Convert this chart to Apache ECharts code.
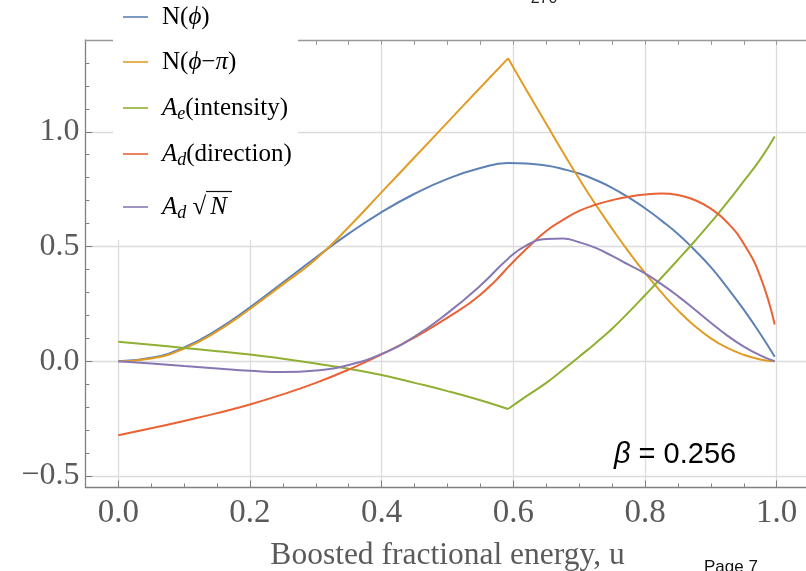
<!DOCTYPE html>
<html>
<head>
<meta charset="utf-8">
<script src="https://cdn.jsdelivr.net/npm/echarts@6/dist/echarts.min.js"></script>
<style>
  html, body { margin: 0; padding: 0; background: #fff; }
  #chart { width: 806px; height: 571px; }
</style>
</head>
<body>
<div id="chart"></div>
<script>
// Boosted fractional energy u (shared sample points for every curve)
const uGrid = [0, 0.05, 0.1, 0.15, 0.2, 0.25, 0.3, 0.35, 0.4, 0.45, 0.5, 0.55, 0.592,
               0.62, 0.65, 0.675, 0.7, 0.725, 0.75, 0.775, 0.8, 0.825, 0.85, 0.875, 0.9,
               0.925, 0.95, 0.975, 0.997];

// N(phi)
const nPhi = [0, 0.015, 0.06, 0.137, 0.235, 0.343, 0.452, 0.556, 0.65, 0.73, 0.795, 0.842, 0.864,
              0.862, 0.853, 0.838, 0.818, 0.79, 0.756, 0.714, 0.667, 0.613, 0.555, 0.486, 0.41,
              0.321, 0.225, 0.12, 0.02];
// N(phi - pi)
const nPhiMinusPi = [0, 0.012, 0.055, 0.13, 0.228, 0.335, 0.445, 0.585, 0.737, 0.889, 1.041, 1.193, 1.32,
                     1.181, 1.035, 0.913, 0.795, 0.683, 0.578, 0.478, 0.385, 0.3, 0.222, 0.155, 0.1,
                     0.058, 0.028, 0.008, 0];
// A_e (intensity)
const aeIntensity = [0.085, 0.072, 0.058, 0.044, 0.03, 0.011, -0.01, -0.033, -0.06, -0.094, -0.13, -0.17, -0.208,
                     -0.152, -0.094, -0.038, 0.02, 0.079, 0.142, 0.213, 0.288, 0.364, 0.442, 0.522, 0.605,
                     0.692, 0.785, 0.88, 0.98];
// A_d (direction)
const adDirection = [-0.322, -0.292, -0.26, -0.226, -0.188, -0.144, -0.094, -0.036, 0.03, 0.104, 0.19, 0.29, 0.41,
                     0.49, 0.568, 0.615, 0.655, 0.682, 0.702, 0.717, 0.727, 0.731, 0.725, 0.703, 0.665,
                     0.605, 0.512, 0.37, 0.16];
// A_d * sqrt(N)
const adSqrtN = [0, -0.01, -0.021, -0.031, -0.041, -0.047, -0.04, -0.016, 0.032, 0.108, 0.21, 0.33, 0.447,
                 0.505, 0.533, 0.535, 0.519, 0.494, 0.459, 0.421, 0.383, 0.336, 0.284, 0.227, 0.168,
                 0.112, 0.064, 0.026, 0];

// Index of the corner (u = 0.592) where several curves change slope abruptly
const kinkIndex = 12;

// Axis ticks
const xMajorTicks = [0, 0.2, 0.4, 0.6, 0.8, 1.0];
const xMinorTicks = [0.05, 0.1, 0.15, 0.25, 0.3, 0.35, 0.45, 0.5, 0.55, 0.65, 0.7, 0.75, 0.85, 0.9, 0.95];
const yMajorTicks = [-0.5, 0, 0.5, 1.0];
const yMinorTicks = [-0.4, -0.3, -0.2, -0.1, 0.1, 0.2, 0.3, 0.4, 0.6, 0.7, 0.8, 0.9, 1.1, 1.2, 1.3];

const seriesNames = ['N(ϕ)', 'N(ϕ−π)', 'Ae(intensity)', 'Ad(direction)', 'Ad√N'];
const seriesColors = ['#5E81B5', '#E19C24', '#8FB032', '#EB6235', '#8778B3'];

const serif = '"Liberation Serif", "DejaVu Serif", serif';
const sans = '"Liberation Sans", Arial, sans-serif';
const frameColor = '#808080';
const labelColor = '#5a5a5a';

function pairs(values, from, to) {
  const out = [];
  for (let i = from; i <= to; i++) out.push([uGrid[i], values[i]]);
  return out;
}

function lineSeries(name, values, color, from, to) {
  return {
    name: name,
    type: 'line',
    data: pairs(values, from, to),
    symbol: 'none',
    showSymbol: false,
    smooth: 0.5,
    silent: true,
    clip: true,
    lineStyle: { color: color, width: 2 },
    z: 3
  };
}

const last = uGrid.length - 1;
const series = [
  lineSeries(seriesNames[0], nPhi, seriesColors[0], 0, last),
  lineSeries(seriesNames[1], nPhiMinusPi, seriesColors[1], 0, kinkIndex),
  lineSeries(seriesNames[1], nPhiMinusPi, seriesColors[1], kinkIndex, last),
  lineSeries(seriesNames[2], aeIntensity, seriesColors[2], 0, kinkIndex),
  lineSeries(seriesNames[2], aeIntensity, seriesColors[2], kinkIndex, last),
  lineSeries(seriesNames[3], adDirection, seriesColors[3], 0, kinkIndex),
  lineSeries(seriesNames[3], adDirection, seriesColors[3], kinkIndex, last),
  lineSeries(seriesNames[4], adSqrtN, seriesColors[4], 0, last)
];

// Legend panel (drawn on top of the frame, upper left)
const legendRich = {
  n: { fontFamily: serif, fontSize: 25, color: '#111', lineHeight: 30 },
  i: { fontFamily: serif, fontSize: 25, fontStyle: 'italic', color: '#111', lineHeight: 30 },
  r: { fontFamily: serif, fontSize: 25, fontStyle: 'italic', color: '#111', lineHeight: 30, padding: [0, 0, 0, 4] },
  sub: { fontFamily: serif, fontSize: 18, fontStyle: 'italic', color: '#111', lineHeight: 18, verticalAlign: 'bottom' }
};
const legendTexts = [
  '{n|N(}{i|ϕ}{n|)}',
  '{n|N(}{i|ϕ}{n|−}{i|π}{n|)}',
  '{i|A}{sub|e}{n|(intensity)}',
  '{i|A}{sub|d}{n|(direction)}',
  '{i|A}{sub|d}{n| √}{r|N}'
];
const legendY = [17, 62, 108, 154, 207];

const legendGraphics = [{
  type: 'rect',
  shape: { x: 113, y: 0, width: 185, height: 240 },
  style: { fill: '#fff' },
  z: 100
}];
legendTexts.forEach(function (t, k) {
  legendGraphics.push({
    type: 'line',
    shape: { x1: 123, y1: legendY[k], x2: 148, y2: legendY[k] },
    style: { stroke: seriesColors[k], lineWidth: 1.6 },
    z: 101
  });
  legendGraphics.push({
    type: 'text',
    x: 162, y: legendY[k],
    style: { text: t, rich: legendRich, verticalAlign: 'middle', align: 'left' },
    z: 101
  });
});
// panel edge trims the last glyph of the long entry
legendGraphics.push({
  type: 'rect',
  shape: { x: 298, y: 138, width: 14, height: 32 },
  style: { fill: '#fff' },
  z: 102
});
// vinculum over N in the last entry
legendGraphics.push({
  type: 'line',
  shape: { x1: 206, y1: 191.5, x2: 232, y2: 191.5 },
  style: { stroke: '#111', lineWidth: 1.2 },
  z: 101
});

const chart = echarts.init(document.getElementById('chart'), null, { renderer: 'canvas' });

chart.setOption({
  animation: false,
  backgroundColor: '#fff',
  grid: { left: 85.4, right: -3.6, top: 40, bottom: 83.5, containLabel: false, outerBoundsMode: 'none' },
  xAxis: [
    {
      type: 'value', min: -0.05, max: 1.05, position: 'bottom',
      axisLine: { show: true, onZero: false, lineStyle: { color: frameColor, width: 1.3 } },
      axisTick: { show: true, inside: true, length: 7, customValues: xMajorTicks,
                  lineStyle: { color: frameColor, width: 1 } },
      axisLabel: { show: true, customValues: xMajorTicks, margin: 9,
                   formatter: function (v) { return v.toFixed(1); },
                   fontFamily: serif, fontSize: 33, color: labelColor },
      splitLine: { show: true, lineStyle: { color: '#dcdcdc', width: 1.3 } },
      name: 'Boosted fractional energy, u',
      nameLocation: 'middle', nameGap: 52,
      nameTextStyle: { fontFamily: serif, fontSize: 31.5, color: labelColor }
    },
    {
      type: 'value', min: -0.05, max: 1.05, position: 'bottom',
      axisLine: { show: false, onZero: false },
      axisTick: { show: true, inside: true, length: 4, customValues: xMinorTicks,
                  lineStyle: { color: frameColor, width: 1 } },
      axisLabel: { show: false },
      splitLine: { show: false }
    },
    {
      type: 'value', min: -0.05, max: 1.05, position: 'top',
      axisLine: { show: true, onZero: false, lineStyle: { color: '#999', width: 1.3 } },
      axisTick: { show: true, inside: true, length: 5, customValues: xMajorTicks.concat(xMinorTicks),
                  lineStyle: { color: '#999', width: 1 } },
      axisLabel: { show: false },
      splitLine: { show: false }
    }
  ],
  yAxis: [
    {
      type: 'value', min: -0.55, max: 1.4, position: 'left',
      axisLine: { show: true, onZero: false, lineStyle: { color: frameColor, width: 1.3 } },
      axisTick: { show: true, inside: true, length: 7, customValues: yMajorTicks,
                  lineStyle: { color: frameColor, width: 1 } },
      axisLabel: { show: true, customValues: yMajorTicks, margin: 6,
                   formatter: function (v) { return (v < 0 ? '\u2212' : '') + Math.abs(v).toFixed(1); },
                   fontFamily: serif, fontSize: 32, color: labelColor },
      splitLine: { show: true, lineStyle: { color: '#dcdcdc', width: 1.3 } }
    },
    {
      type: 'value', min: -0.55, max: 1.4, position: 'left',
      axisLine: { show: false, onZero: false },
      axisTick: { show: true, inside: true, length: 4, customValues: yMinorTicks,
                  lineStyle: { color: frameColor, width: 1 } },
      axisLabel: { show: false },
      splitLine: { show: false }
    }
  ],
  series: series,
  graphic: legendGraphics.concat([
    {
      type: 'text', x: 614, y: 455, z: 50,
      style: {
        text: '{b|β} = 0.256',
        rich: { b: { fontFamily: sans, fontStyle: 'italic', fontSize: 29, fill: '#000' } },
        fontFamily: sans, fontSize: 29, fill: '#000', verticalAlign: 'middle', align: 'left'
      }
    },
    {
      type: 'text', x: 544, y: -1, z: 50,
      style: { text: '270', fontFamily: sans, fontSize: 16, fill: '#222',
               align: 'center', verticalAlign: 'middle' }
    },
    {
      type: 'text', x: 704, y: 559, z: 50,
      style: { text: 'Page 7', fontFamily: sans, fontSize: 17, fill: '#111',
               align: 'left', verticalAlign: 'top' }
    }
  ])
});
</script>
</body>
</html>
